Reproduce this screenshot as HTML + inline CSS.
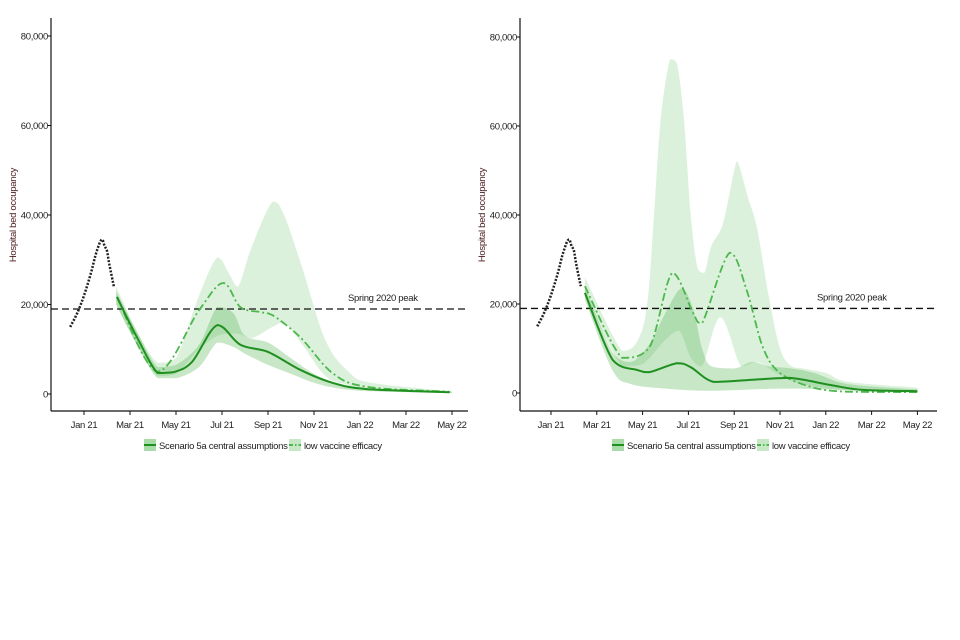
<!DOCTYPE html>
<html><head><meta charset="utf-8"><style>
html,body{margin:0;padding:0;background:#fff;width:960px;height:640px;overflow:hidden}
svg text{font-family:"Liberation Sans",sans-serif;font-size:9.5px;fill:#222;letter-spacing:-0.3px}
</style></head><body>
<svg id="chart" width="960" height="640" xmlns="http://www.w3.org/2000/svg"></svg>
<script>
// Shared data: t = months since 1 Jan 2021, values in thousands
const monthTicks = [0,2,4,6,8,10,12,14,16];
const monthLabels = ["Jan 21","Mar 21","May 21","Jul 21","Sep 21","Nov 21","Jan 22","Mar 22","May 22"];
const yTicks = [0,20,40,60,80];
const yTickLabels = ["0","20,000","40,000","60,000","80,000"];
const springPeak = 19;
const histT = [-0.6,-0.3,0,0.3,0.5,0.7,0.8,0.9,1.0,1.1,1.3];
const histV = [15,18,22,27,31,34,34.5,33,32,29,24];

// Left panel
const L_centralT = [1.43,2.3,3.2,3.9,4.7,5.8,6.8,8,9.4,10.8,12.3,15.9];
const L_centralV = [21.7,12.7,4.7,4.9,7.2,15.4,11,9.4,5.4,2.5,1.1,0.4];
const L_lowT = [1.45,3.2,5,6.05,6.8,7.7,8.2,9.4,10.8,12.3,15.9];
const L_lowV = [21.5,5,18.7,24.8,19.4,18.3,17.6,12.7,4.7,1.6,0.5];
const L_lowBandT = [1.4,2.3,3.2,4,5,5.8,6.3,6.7,7.3,8.2,8.7,9.5,10.5,11.5,12.5,16];
const L_lowBandHi = [24,14,7,8,22,30.5,27,24,33,43,40,28,12,5,2.5,0.6];
const L_lowBandLo = [20,11,4,4.5,10,13,13.5,13.5,12.5,15,16,11,4,2,1,0.3];
const L_cenBandT = [1.4,2.3,3.2,4,5,5.8,6.5,7,8,9,10,11,12.5,16];
const L_cenBandHi = [23,14,6,6.5,11,19.5,18,13,11.5,8,4.5,2.5,1.2,0.5];
const L_cenBandLo = [20,11,3.5,3.5,6,11.5,10.5,9,6.5,4.5,2.5,1.3,0.6,0.2];

// Right panel
const R_centralT = [1.48,2.7,3.75,4.3,5.5,6.1,7.1,8.6,10.4,12.2,13.6,16];
const R_centralV = [22.5,7.4,5.2,4.7,6.7,5.8,2.5,2.9,3.4,1.8,0.7,0.4];
const R_lowT = [1.48,3.1,4.3,5.3,6.2,6.6,7.8,8.55,9.25,10,11.4,12.9,16];
const R_lowV = [24,7.9,10.3,27,18,15.7,31.5,23,10.3,4.5,1.3,0.3,0.2];
const R_lowBandT = [1.48,3.1,3.8,4.2,4.5,4.8,5.2,5.5,5.8,6.1,6.4,6.7,7,7.5,8,8.15,8.6,9,9.5,10,10.5,11,12,13,16];
const R_lowBandHi = [26,9.5,12,20,40,62,75,74,62,40,28,27,33,38,50,52,44,37,22,10,6,5.5,4.5,2.5,1.2];
const R_lowBandLoT = [1.48,3.1,4,5,5.6,6.1,6.6,7.4,8.3,9,10,11,13,16];
const R_lowBandLo = [22,6,6.5,12,14,8,6,17,6,7,4,2,0.5,0.1];
const R_cenBandT = [1.48,2.7,3.5,4.3,5,5.7,6.2,6.6,7,8,8.8,9.5,10.5,11.5,13,16];
const R_cenBandHi = [24,9,7,11,18,23.5,19,10,6,5.5,7,6,5.5,4.5,2,0.8];
const R_cenBandLoT = [1.48,2.7,3.5,5,7,10,12,16];
const R_cenBandLo = [21,5,2,1,0.5,1,0.8,0.2];

const NS="http://www.w3.org/2000/svg";
const svg=document.getElementById('chart');
function mk(tag,attrs,parent){const e=document.createElementNS(NS,tag);for(const k in attrs)e.setAttribute(k,attrs[k]);(parent||svg).appendChild(e);return e;}
function clamp(v,a,b){const lo=Math.min(a,b),hi=Math.max(a,b);return Math.max(lo,Math.min(hi,v));}
function smooth(pts){
  if(pts.length<2)return '';
  let d='M'+pts[0][0].toFixed(1)+','+pts[0][1].toFixed(1);
  for(let i=0;i<pts.length-1;i++){
    const p0=pts[i-1]||pts[i],p1=pts[i],p2=pts[i+1],p3=pts[i+2]||p2;
    const c1=[p1[0]+(p2[0]-p0[0])/6,clamp(p1[1]+(p2[1]-p0[1])/6,p1[1],p2[1])];
    const c2=[p2[0]-(p3[0]-p1[0])/6,clamp(p2[1]-(p3[1]-p1[1])/6,p1[1],p2[1])];
    d+='C'+c1[0].toFixed(1)+','+c1[1].toFixed(1)+' '+c2[0].toFixed(1)+','+c2[1].toFixed(1)+' '+p2[0].toFixed(1)+','+p2[1].toFixed(1);
  }
  return d;
}
function bandPath(xs,ys,tHi,hi,tLo,lo){
  const up=tHi.map((t,i)=>[xs(t),ys(hi[i])]);
  const dn=tLo.map((t,i)=>[xs(t),ys(lo[i])]).reverse();
  return smooth(up)+smooth(dn).replace(/^M/,'L')+'Z';
}

function panel(name,o){
  const g=mk('g',{});
  
  
  const xs=t=>o.x0+t*o.pxm;
  const ys=v=>o.y0-v*o.pxv;
  const lb=mk('path',{d:bandPath(xs,ys,o.lbT,o.lbHi,o.lbLoT,o.lbLo),fill:'rgba(110,195,110,0.24)'},g);
  
  
  const cb=mk('path',{d:bandPath(xs,ys,o.cbT,o.cbHi,o.cbLoT,o.cbLo),fill:'rgba(80,180,80,0.32)'},g);
  
  
  const pl=mk('line',{x1:o.ax,x2:o.axEnd,y1:ys(springPeak),y2:ys(springPeak),stroke:'#111','stroke-width':1.3,'stroke-dasharray':'7,4'},g);
  
  
  const pt=mk('text',{x:o.peakX,y:ys(springPeak)-8},g);pt.textContent='Spring 2020 peak';
  
  
  const hp=mk('path',{d:smooth(histT.map((t,i)=>[xs(t),ys(histV[i])])),fill:'none',stroke:'#222','stroke-width':2.5,'stroke-dasharray':'2,1.5'},g);
  
  
  const ll=mk('path',{d:smooth(o.lowT.map((t,i)=>[xs(t),ys(o.lowV[i])])),fill:'none',stroke:'#4cb84c','stroke-width':1.8,'stroke-dasharray':'8,3,2,3'},g);
  
  
  const cl=mk('path',{d:smooth(o.cT.map((t,i)=>[xs(t),ys(o.cV[i])])),fill:'none',stroke:'#1f8f1f','stroke-width':2},g);
  
  
  const ya=mk('line',{x1:o.ax,x2:o.ax,y1:18,y2:o.axB,stroke:'#111','stroke-width':1.2},g);
  
  
  const xa=mk('line',{x1:o.ax,x2:o.axEnd,y1:o.axB,y2:o.axB,stroke:'#111','stroke-width':1.2},g);
  
  
  yTicks.forEach((v,i)=>{
    mk('line',{x1:o.ax-3,x2:o.ax,y1:ys(v),y2:ys(v),stroke:'#111'},g);
    const t=mk('text',{x:o.ax-3,y:ys(v)+3.5,'text-anchor':'end'},g);t.textContent=yTickLabels[i];
    
    
  });
  monthTicks.forEach((m,i)=>{
    mk('line',{x1:xs(m),x2:xs(m),y1:o.axB,y2:o.axB+4,stroke:'#111'},g);
    const t=mk('text',{x:xs(m),y:o.axB+17,'text-anchor':'middle'},g);t.textContent=monthLabels[i];
    
    
  });
  const yt=mk('text',{x:0,y:0,transform:'translate('+(o.ax-35)+',215) rotate(-90)','text-anchor':'middle',style:'fill:#4a1a1a'},g);
  yt.textContent='Hospital bed occupancy';
  
  
  const lg=mk('g',{},g);
  
  
  const k1=mk('rect',{x:o.legX,y:439,width:12,height:12,fill:'#a9dca9'},lg);
  
  
  mk('line',{x1:o.legX,x2:o.legX+12,y1:445,y2:445,stroke:'#1f8f1f','stroke-width':2},lg);
  const t1=mk('text',{x:o.legX+15,y:449},lg);t1.textContent='Scenario 5a central assumptions';
  
  
  const k2=mk('rect',{x:o.legX+145,y:439,width:12,height:12,fill:'#c6e8c6'},lg);
  
  
  mk('line',{x1:o.legX+145,x2:o.legX+157,y1:445,y2:445,stroke:'#4cb84c','stroke-width':2,'stroke-dasharray':'4,2,1.5,2'},lg);
  const t2=mk('text',{x:o.legX+160,y:449},lg);t2.textContent='low vaccine efficacy';
  
  
}

panel('left-chart',{x0:84,pxm:23.0,y0:394,pxv:4.475,ax:51,axEnd:468,axB:411,peakX:348,legX:144,
  cT:L_centralT,cV:L_centralV,lowT:L_lowT,lowV:L_lowV,
  lbT:L_lowBandT,lbHi:L_lowBandHi,lbLoT:L_lowBandT,lbLo:L_lowBandLo,
  cbT:L_cenBandT,cbHi:L_cenBandHi,cbLoT:L_cenBandT,cbLo:L_cenBandLo});
panel('right-chart',{x0:551,pxm:22.9,y0:393,pxv:4.45,ax:520,axEnd:937,axB:411,peakX:817,legX:612,
  cT:R_centralT,cV:R_centralV,lowT:R_lowT,lowV:R_lowV,
  lbT:R_lowBandT,lbHi:R_lowBandHi,lbLoT:R_lowBandLoT,lbLo:R_lowBandLo,
  cbT:R_cenBandT,cbHi:R_cenBandHi,cbLoT:R_cenBandLoT,cbLo:R_cenBandLo});
</script>
</body></html>
